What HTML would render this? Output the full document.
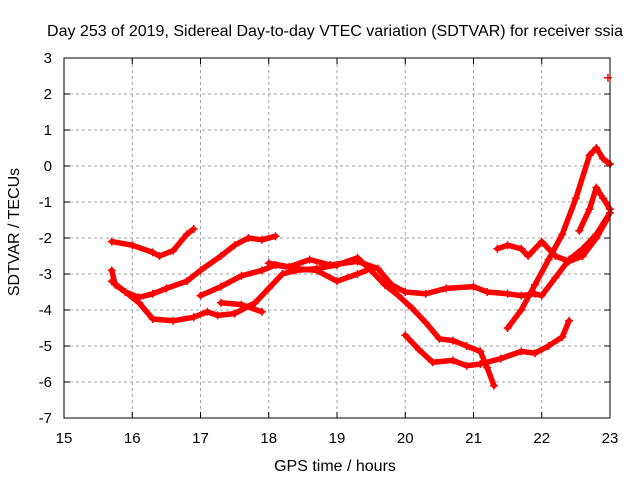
<!DOCTYPE html>
<html><head><meta charset="utf-8"><style>
body{margin:0;background:#fff}
svg{display:block;font-family:"Liberation Sans",sans-serif}
</style></head><body>
<svg id="c" width="640" height="480">
<text x="335" y="36" font-size="16" text-anchor="middle">Day 253 of 2019, Sidereal Day-to-day VTEC variation (SDTVAR) for receiver ssia</text>
<text x="335" y="471" font-size="16" text-anchor="middle">GPS time / hours</text>
<text transform="translate(19,232) rotate(-90)" font-size="16" text-anchor="middle">SDTVAR / TECUs</text>
<g id="grid"></g><g id="series"></g>
<rect x="64" y="58" width="546" height="360" fill="none" stroke="#000" stroke-width="1"/>
</svg>
<script>
const xTicks=[15,16,17,18,19,20,21,22,23];
const yTicks=[3,2,1,0,-1,-2,-3,-4,-5,-6,-7];
const s1=[[15.7,-2.1],[16.0,-2.2],[16.3,-2.4],[16.4,-2.5],[16.6,-2.35],[16.8,-1.9],[16.9,-1.75]];
const s2=[[15.7,-2.9],[15.75,-3.3],[15.9,-3.5],[16.1,-3.8],[16.3,-4.25],[16.6,-4.3],[16.9,-4.2],[17.1,-4.05],[17.25,-4.15],[17.5,-4.1],[17.8,-3.8],[18.0,-3.4],[18.2,-3.0],[18.4,-2.9],[18.7,-2.85],[19.0,-2.75],[19.3,-2.55],[19.5,-2.9],[19.7,-3.3],[19.9,-3.6],[20.1,-3.95],[20.3,-4.35],[20.5,-4.8],[20.7,-4.85],[20.9,-5.0],[21.1,-5.15],[21.2,-5.6],[21.3,-6.1]];
const s3=[[15.7,-3.2],[15.9,-3.5],[16.1,-3.65],[16.3,-3.55],[16.5,-3.4],[16.8,-3.2],[17.0,-2.9],[17.3,-2.5],[17.5,-2.2],[17.7,-2.0],[17.9,-2.05],[18.1,-1.95]];
const s4=[[17.0,-3.6],[17.3,-3.35],[17.6,-3.05],[17.9,-2.9],[18.1,-2.75],[18.4,-2.85],[18.7,-2.9],[19.0,-3.2],[19.3,-3.0],[19.5,-2.85]];
const s5=[[17.3,-3.8],[17.6,-3.85],[17.9,-4.05]];
const s6=[[18.0,-2.7],[18.3,-2.8],[18.6,-2.6],[18.9,-2.75],[19.3,-2.65],[19.6,-2.85],[19.8,-3.3],[20.0,-3.5],[20.3,-3.55],[20.6,-3.4],[21.0,-3.35],[21.2,-3.5],[21.5,-3.55],[21.7,-3.6],[21.9,-3.55],[22.0,-3.6],[22.2,-3.1],[22.4,-2.6],[22.6,-2.3],[22.8,-1.9],[23.0,-1.3]];
const s7=[[20.0,-4.7],[20.2,-5.1],[20.4,-5.45],[20.7,-5.4],[20.9,-5.55],[21.1,-5.5],[21.4,-5.35],[21.7,-5.15],[21.9,-5.2],[22.1,-5.0],[22.3,-4.75],[22.4,-4.3]];
const s8=[[21.5,-4.5],[21.7,-4.0],[21.9,-3.3],[22.1,-2.6],[22.3,-1.9],[22.5,-0.9],[22.7,0.3],[22.8,0.5],[22.9,0.2],[23.0,0.05]];
const s9=[[21.35,-2.3],[21.5,-2.2],[21.7,-2.3],[21.8,-2.5],[22.0,-2.1],[22.2,-2.5],[22.4,-2.65],[22.6,-2.5],[22.8,-2.0],[22.95,-1.5]];
const s10=[[22.55,-1.8],[22.7,-1.2],[22.8,-0.6],[22.9,-0.9],[23.0,-1.2]];
const s11=[[22.97,2.45]];
const allSeries=[s1,s2,s3,s4,s5,s6,s7,s8,s9,s10,s11];
const X=h=>64+(h-15)*546/8, Y=v=>58+(3-v)*36;
const NS="http://www.w3.org/2000/svg";
const g=document.getElementById('grid'), sg=document.getElementById('series');
function mk(t,a,p){const e=document.createElementNS(NS,t);for(const k in a)e.setAttribute(k,a[k]);p.appendChild(e);return e;}
xTicks.forEach(t=>{const x=X(t);
 if(t>15&&t<23){const l=mk('line',{x1:x,y1:58,x2:x,y2:418,stroke:'#a0a0a0','stroke-dasharray':'3,3'},g);
 
 }
 mk('line',{x1:x,y1:418,x2:x,y2:412,stroke:'#000'},g);mk('line',{x1:x,y1:58,x2:x,y2:64,stroke:'#000'},g);
 const tx=mk('text',{x:x,y:443,'font-size':15,'text-anchor':'middle'},g);tx.textContent=t;
 
 });
yTicks.forEach(t=>{const y=Y(t);
 if(t<3&&t>-7){const l=mk('line',{x1:64,y1:y,x2:610,y2:y,stroke:'#a0a0a0','stroke-dasharray':'3,3'},g);
 
 }
 mk('line',{x1:64,y1:y,x2:70,y2:y,stroke:'#000'},g);mk('line',{x1:610,y1:y,x2:604,y2:y,stroke:'#000'},g);
 const tx=mk('text',{x:52,y:y+5,'font-size':15,'text-anchor':'end'},g);tx.textContent=t;
 
 });
allSeries.forEach((s,i)=>{
 const grp=mk('g',{},sg);
 
 
 if(s.length>1)mk('polyline',{points:s.map(p=>X(p[0])+','+Y(p[1])).join(' '),fill:'none',stroke:'#f00','stroke-width':5.5,'stroke-linejoin':'round','stroke-linecap':'round'},grp);
 s.forEach(p=>{const x=X(p[0]),y=Y(p[1]);
  mk('path',{d:`M${x-4},${y}H${x+4}M${x},${y-4}V${y+4}`,stroke:'#f00','stroke-width':1.5},grp);});
});
</script>
</body></html>
